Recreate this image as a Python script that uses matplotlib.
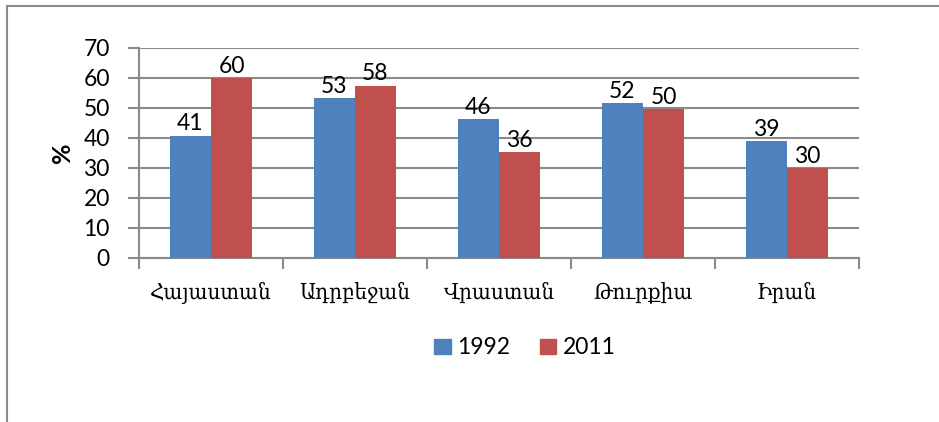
import numpy as np
import matplotlib
matplotlib.use("Agg")
import matplotlib.pyplot as plt
from matplotlib.lines import Line2D
from matplotlib.patches import Patch
from matplotlib.font_manager import FontProperties

countries = ["Հայաստան", "Ադրբեջան", "Վրաստան", "Թուրքիա", "Իրան"]
years = ["1992", "2011"]
vals_1992 = [40.8, 53.2, 46.3, 51.6, 39]
vals_2011 = [59.9, 57.4, 35.3, 49.6, 29.9]
labels_1992 = ["41", "53", "46", "52", "39"]
labels_2011 = ["60", "58", "36", "50", "30"]

blue = "#4F81BD"
red = "#C0504D"
gray = "#8A8A8A"
num_font = ["Lato", "DejaVu Sans"]
arm_fp = FontProperties(family=["DejaVu Serif", "DejaVu Sans"], stretch="condensed", size=16)

W, H = 939, 422
fig = plt.figure(figsize=(W / 100, H / 100), dpi=100)
ax = fig.add_axes([139 / W, 1 - 258 / H, 720 / W, 210 / H])

x = np.arange(len(countries))
bw = 0.285
ax.bar(x - bw / 2, vals_1992, bw, color=blue, zorder=3)
ax.bar(x + bw / 2, vals_2011, bw, color=red, zorder=3)

for xi, v, t in zip(x - bw / 2, vals_1992, labels_1992):
    ax.annotate(t, (xi, v), xytext=(0, 1), textcoords="offset points",
                ha="center", va="bottom", fontsize=16.5, family=num_font)
for xi, v, t in zip(x + bw / 2, vals_2011, labels_2011):
    ax.annotate(t, (xi, v), xytext=(0, 1), textcoords="offset points",
                ha="center", va="bottom", fontsize=16.5, family=num_font)

ax.set_xlim(-0.5, len(countries) - 0.5)
ax.set_ylim(0, 70)
ax.set_yticks(range(0, 71, 10))
ax.yaxis.grid(True, color=gray, linewidth=1.5, zorder=0)
ax.set_axisbelow(True)
for s in ["top", "right"]:
    ax.spines[s].set_visible(False)
for s in ["left", "bottom"]:
    ax.spines[s].set_color(gray)
    ax.spines[s].set_linewidth(1.5)

ax.set_xticks(x)
ax.set_xticklabels(countries, fontproperties=arm_fp)
ax.set_xticks(np.arange(-0.5, len(countries)), minor=True)
ax.tick_params(axis="x", which="major", length=0, pad=17)
ax.tick_params(axis="x", which="minor", length=8, color=gray, width=1.5)
ax.tick_params(axis="y", length=8, color=gray, width=1.5, pad=13)
for lab in ax.get_yticklabels():
    lab.set_family(num_font)
    lab.set_fontsize(16.5)

ax.set_ylabel("%", fontsize=18, fontweight="bold", family=num_font)
ax.yaxis.set_label_coords((74 - 139) / 720, 0.5)

handles = [Patch(color=blue), Patch(color=red)]
fig.legend(handles, years, loc="center", bbox_to_anchor=(525 / W, 1 - 348 / H),
           ncol=2, frameon=False, prop={"family": num_font, "size": 16.5},
           handlelength=0.72, handleheight=0.6, handletextpad=0.27,
           columnspacing=1.3, borderpad=0)

# chart border (only top and left visible)
fig.add_artist(Line2D([7 / W, 1], [1 - 6 / H, 1 - 6 / H], color=gray, linewidth=1.5))
fig.add_artist(Line2D([7 / W, 7 / W], [1 - 6 / H, 0], color=gray, linewidth=1.5))

fig.savefig("out.png", dpi=100)
